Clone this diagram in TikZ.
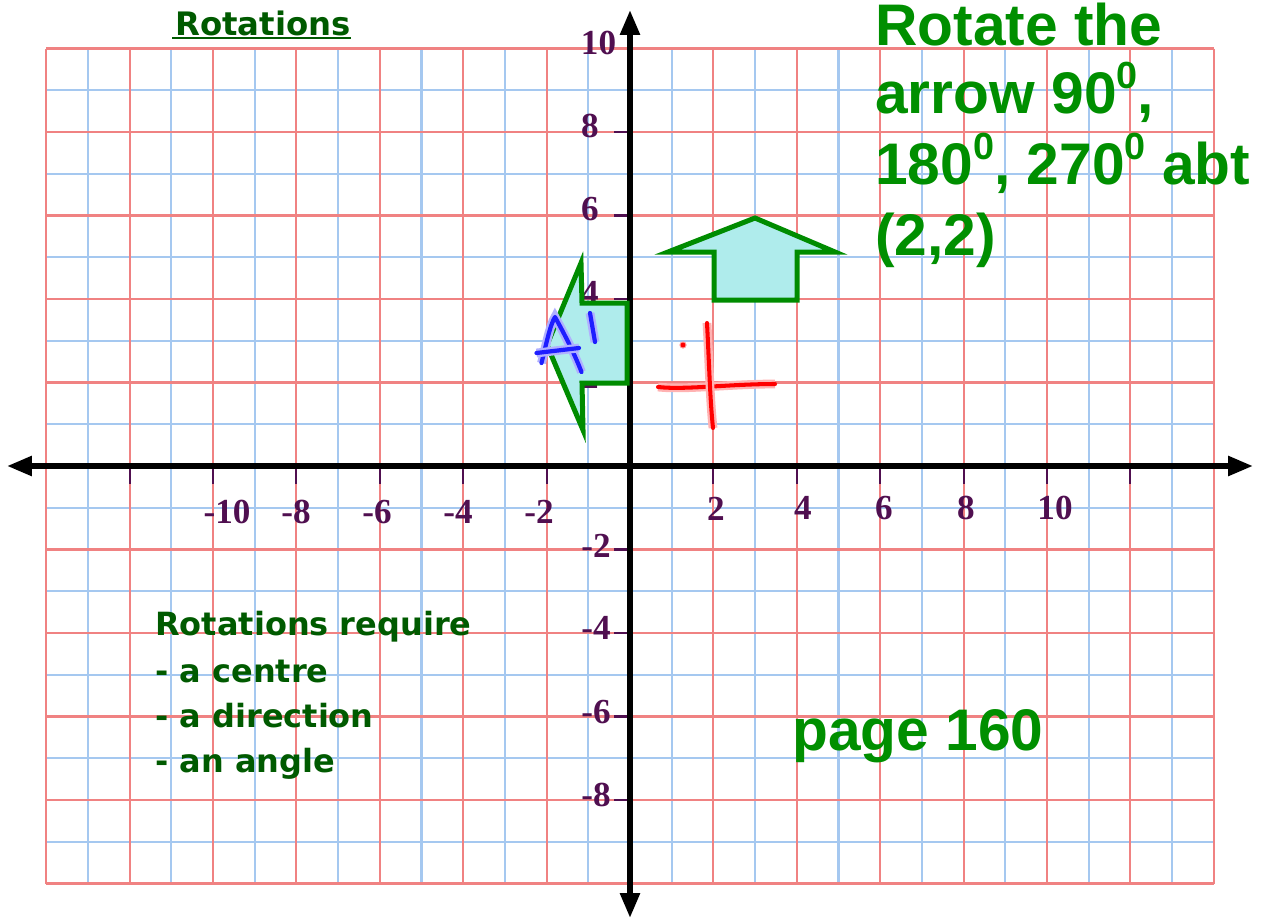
\documentclass[tikz,border=0pt]{standalone}
\usepackage{fontspec}
\usetikzlibrary{arrows.meta}
\newfontfamily\lsans{Liberation Sans}
\newfontfamily\lserif{Liberation Serif}
\newfontfamily\dvs{DejaVu Sans}
\definecolor{gridred}{RGB}{240,130,130}
\definecolor{gridblue}{RGB}{165,200,240}
\definecolor{axnum}{RGB}{80,15,80}
\definecolor{tgreen}{RGB}{0,143,0}
\definecolor{dgreen}{RGB}{0,90,0}
\definecolor{aoutline}{RGB}{0,140,0}
\definecolor{afill}{RGB}{175,236,236}
\definecolor{penblue}{RGB}{30,30,255}
\definecolor{penred}{RGB}{255,0,0}
\newcommand\supz{\raisebox{13.9pt}{\fontsize{21.5}{21.5}\selectfont 0}}
\begin{document}
\begin{tikzpicture}[x=0.02cm,y=-0.02cm,
  gblue/.style={gridblue,line width=1.2pt},
  gred/.style={gridred,line width=1.2pt},
  tickmark/.style={axnum,line width=1.2pt},
  axnumber/.style={axnum,inner sep=0pt,font=\lserif\bfseries\fontsize{20}{20}\selectfont},
  axisline/.style={black,line width=3.2pt,{Triangle[length=0.5cm,width=0.38cm]}-{Triangle[length=0.5cm,width=0.38cm]}},
  arrowshape/.style={draw=aoutline,fill=afill,line width=2.85pt,line join=miter},
  redpen/.style={penred,line width=2.3pt,line cap=round,line join=round,preaction={draw=penred!30,line width=5pt}},
  bluepen/.style={penblue,line width=2.4pt,line cap=round,line join=round,preaction={draw=penblue!35,line width=5pt}},
  titletext/.style={anchor=base west,inner sep=0pt,text=tgreen,font=\lsans\bfseries\fontsize{33.4}{33.4}\selectfont},
  notetext/.style={anchor=base west,inner sep=0pt,text=dgreen,font=\dvs\bfseries\fontsize{18.2}{18.2}\selectfont}]
\useasboundingbox (0,0) rectangle (1265,920);
\fill[white] (0,0) rectangle (1265,920);
% grid
\foreach \i in {-13,-11,...,13} \draw[gblue] ({630+41.7*\i},48.5) -- ({630+41.7*\i},883.5);
\foreach \j in {-9,-7,...,9} \draw[gblue] (46.2,{466-41.75*\j}) -- (1213.8,{466-41.75*\j});
\foreach \i in {-14,-12,...,14} \draw[gred] ({630+41.7*\i},48.5) -- ({630+41.7*\i},883.5);
\foreach \j in {-10,-8,...,10} \draw[gred] (46.2,{466-41.75*\j}) -- (1213.8,{466-41.75*\j});
% ticks
\foreach \i in {-12,-10,...,-2,2,4,...,12} \draw[tickmark] ({630+41.7*\i},468) -- ({630+41.7*\i},484);
\foreach \j in {8,6,4,2,-2,-4,-6,-8} \draw[tickmark] (614,{466-41.75*\j}) -- (628,{466-41.75*\j});
% y labels
\node[axnumber] (y10) at (598.5,42.5) {10};
\node[axnumber] (y8) at (590,126) {8};
\node[axnumber] (y6) at (590,209.5) {6};
\node[axnumber] (y4) at (590,293) {4};
\node[axnumber] (y2) at (590,376.5) {2};
\node[axnumber] (ym2) at (596,546) {-2};
\node[axnumber] (ym4) at (596,628) {-4};
\node[axnumber] (ym6) at (596,712) {-6};
\node[axnumber] (ym8) at (596,795) {-8};
% x labels
\node[axnumber] (xm10) at (227,512) {-10};
\node[axnumber] (xm8) at (296,512) {-8};
\node[axnumber] (xm6) at (377,512) {-6};
\node[axnumber] (xm4) at (458,512) {-4};
\node[axnumber] (xm2) at (539,512) {-2};
\node[axnumber] (x2) at (716,509) {2};
\node[axnumber] (x4) at (803,508) {4};
\node[axnumber] (x6) at (884,508) {6};
\node[axnumber] (x8) at (966,508) {8};
\node[axnumber] (x10) at (1055,508) {10};
% axes
\coordinate (xl) at (7,466);
\coordinate (xr) at (1253,466);
\coordinate (yt) at (630,10);
\coordinate (yb) at (630,918);
\draw[axisline] (xl) -- (xr);
\draw[axisline] (yb) -- (yt);
% arrows
\draw[arrowshape] (714,300) -- (797,300) -- (797,252) -- (835,252) -- (755,218) -- (668,252) -- (714,252) -- cycle;
\draw[arrowshape] (627,303) -- (627,383) -- (582,383) -- (583,430) -- (547,345) -- (581,263) -- (582,303) -- cycle;
% red cross
\draw[redpen] (658,387) .. controls (685,390) and (730,384) .. (775,384);
\draw[redpen] (707,323) .. controls (709,360) and (710,400) .. (713,428);
\fill[penred!40] (683,345) circle (3.6);
\fill[penred] (683,345) circle (2.4);
% blue A'
\draw[bluepen] (541.5,363) .. controls (546,345) and (550,325) .. (555,317) .. controls (565,335) and (575,355) .. (581.5,372);
\draw[bluepen] (536.5,353) -- (579,348);
\draw[bluepen] (590,313) -- (595,342);
% texts
\node[anchor=base west,inner sep=0pt,text=dgreen,font=\dvs\bfseries\fontsize{18.4}{18.4}\selectfont] (rot) at (175,35) {Rotations};
\draw[dgreen,line width=1.2pt] ([xshift=-0.06cm,yshift=-0.065cm]rot.base west) -- ([yshift=-0.065cm]rot.base east);
\node[titletext] (t1) at (875,45) {Rotate the};
\node[titletext] (t2) at (875,113) {arrow 90\supz,};
\node[titletext] (t3) at (875,184) {180\supz, 270\supz\ abt};
\node[titletext] (t4) at (875,255) {(2,2)};
\node[notetext] (n1) at (155,635) {Rotations require};
\node[notetext] (n2) at (155,682) {- a centre};
\node[notetext] (n3) at (155,727) {- a direction};
\node[notetext] (n4) at (155,772) {- an angle};
\node[titletext] (pg) at (792,750) {page 160};
\end{tikzpicture}
\end{document}
